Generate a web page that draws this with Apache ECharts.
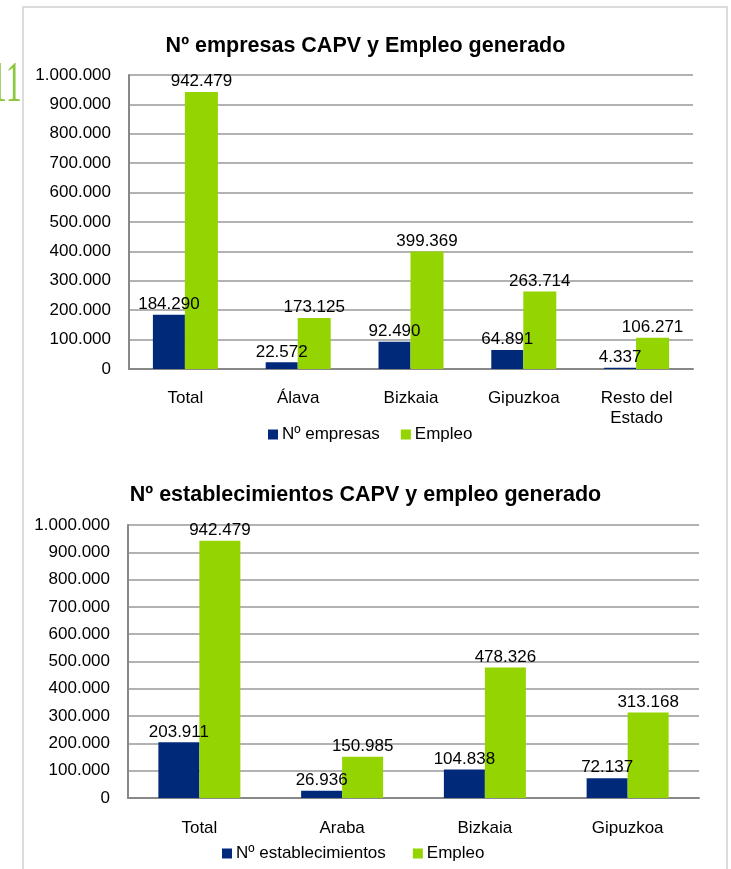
<!DOCTYPE html>
<html>
<head>
<meta charset="utf-8">
<script src="https://cdn.jsdelivr.net/npm/echarts@6/dist/echarts.min.js"></script>
<style>
    html, body {margin: 0; padding: 0; background: #fff;}
    #chart {width: 731px; height: 869px;}
</style>
</head>
<body>
<div id="chart"></div>
<script>
    const categories1 = ['Total', 'Álava', 'Bizkaia', 'Gipuzkoa', 'Resto del\nEstado'];
    const empresas = [184290, 22572, 92490, 64891, 4337];
    const empleo1 = [942479, 173125, 399369, 263714, 106271];

    const categories2 = ['Total', 'Araba', 'Bizkaia', 'Gipuzkoa'];
    const establecimientos = [203911, 26936, 104838, 72137];
    const empleo2 = [942479, 150985, 478326, 313168];

    const yMax = 1000000;
    const yStep = 100000;

    const navy = '#00297A';
    const green = '#94D400';
    const font = 'Liberation Sans, Arial, sans-serif';

    // separador de miles con punto
    const fmt = v => String(v).replace(/\B(?=(\d{3})+(?!\d))/g, '.');

    const chart = echarts.init(document.getElementById('chart'));

    const yAxis = (gridIndex) => ({
        type: 'value',
        gridIndex: gridIndex,
        min: 0,
        max: yMax,
        interval: yStep,
        axisLine: {show: true, lineStyle: {color: '#888', width: 2}},
        axisTick: {show: false},
        axisLabel: {color: '#000', fontSize: 17, fontFamily: font, margin: 18, formatter: fmt},
        splitLine: {lineStyle: {color: '#999', width: 1.5}},
    });

    const xAxis = (gridIndex, data, margin) => ({
        type: 'category',
        gridIndex: gridIndex,
        data: data,
        axisLine: {lineStyle: {color: '#888', width: 2}},
        axisTick: {show: false},
        axisLabel: {color: '#000', fontSize: 17, fontFamily: font, margin: margin, lineHeight: 20, interval: 0},
    });

    const bar = (name, data, idx, color, width) => ({
        name: name,
        type: 'bar',
        xAxisIndex: idx,
        yAxisIndex: idx,
        data: data,
        barWidth: width,
        barGap: '0%',
        itemStyle: {color: color},
        label: {
            show: true,
            position: 'top',
            distance: 2,
            color: '#000',
            fontSize: 17,
            fontFamily: font,
            formatter: p => fmt(p.value),
        },
    });

    const option = {
        animation: false,
        backgroundColor: '#fff',
        textStyle: {fontFamily: font},
        title: [
            {
                text: 'Nº empresas CAPV y Empleo generado',
                left: 'center',
                top: 30,
                textStyle: {color: '#000', fontSize: 21.5, fontWeight: 'bold', fontFamily: font},
            },
            {
                text: 'Nº establecimientos CAPV y empleo generado',
                left: 'center',
                top: 479,
                textStyle: {color: '#000', fontSize: 21.5, fontWeight: 'bold', fontFamily: font},
            },
        ],
        legend: [
            {
                data: ['Nº empresas', 'Empleo'],
                left: 263,
                top: 421,
                icon: 'rect',
                itemWidth: 10,
                itemHeight: 10,
                itemGap: 21,
                textStyle: {color: '#000', fontSize: 17, fontFamily: font, padding: [0, 0, 0, -1]},
            },
            {
                data: ['Nº establecimientos', 'Empleo'],
                left: 217,
                top: 840,
                icon: 'rect',
                itemWidth: 10,
                itemHeight: 10,
                itemGap: 27,
                textStyle: {color: '#000', fontSize: 17, fontFamily: font, padding: [0, 0, 0, -1]},
            },
        ],
        grid: [
            {left: 129, top: 75, width: 564, height: 294},
            {left: 128, top: 525, width: 571, height: 273},
        ],
        xAxis: [
            xAxis(0, categories1, 19),
            xAxis(1, categories2, 20),
        ],
        yAxis: [yAxis(0), yAxis(1)],
        series: [
            bar('Nº empresas', empresas, 0, navy, 32),
            bar('Empleo', empleo1, 0, green, 33),
            bar('Nº establecimientos', establecimientos, 1, navy, 41),
            bar('Empleo', empleo2, 1, green, 41),
        ],
        graphic: [
            {
                type: 'rect',
                silent: true,
                shape: {x: 23, y: 7, width: 704, height: 900},
                style: {fill: 'none', stroke: '#dcdcdc', lineWidth: 2},
            },
            {
                type: 'text',
                silent: true,
                x: -9,
                y: 57,
                scaleX: 0.55,
                style: {text: '11', fill: '#8DC63F', font: '58px "Liberation Serif", serif'},
            },
        ],
    };

    chart.setOption(option);
</script>
</body>
</html>
